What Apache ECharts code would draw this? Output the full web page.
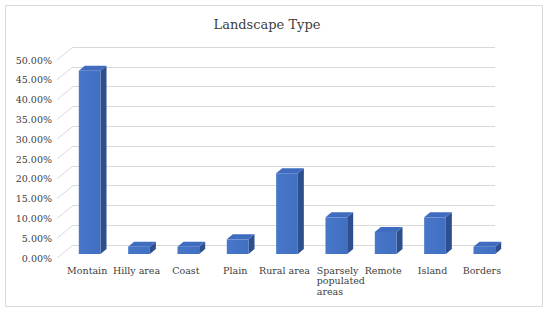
<!DOCTYPE html>
<html>
<head>
<meta charset="utf-8">
<script src="https://cdn.jsdelivr.net/npm/echarts@6/dist/echarts.min.js"></script>
<style>html,body{margin:0;padding:0;background:#fff}#c{width:550px;height:313px}</style>
</head>
<body>
<div id="c"></div>
<script>
const chartTitle = 'Landscape Type';
const categories = ['Montain', 'Hilly area', 'Coast', 'Plain', 'Rural area', 'Sparsely\npopulated\nareas', 'Remote', 'Island', 'Borders'];
const shares = [0.463, 0.0185, 0.0185, 0.037, 0.2037, 0.0926, 0.0556, 0.0926, 0.0185];
const yTicks = [0, 0.05, 0.10, 0.15, 0.20, 0.25, 0.30, 0.35, 0.40, 0.45, 0.50];

const FONT = '"DejaVu Serif", serif';
const DEPTH = [16, -13];   // wall depth offset
const BAR_DEPTH = [6, -5]; // bar depth offset

const chart = echarts.init(document.getElementById('c'), null, {renderer: 'svg'});
const yMin = yTicks[0], yMax = yTicks[yTicks.length - 1], yStep = yTicks[1] - yTicks[0];
const labelStyle = {align: 'left', fontFamily: FONT, fontSize: 9.5, color: '#404040', lineHeight: 10.5};

chart.setOption({
  animation: false,
  backgroundColor: '#ffffff',
  graphic: [
    {type: 'rect', shape: {x: 5.5, y: 5.5, width: 537, height: 301}, style: {fill: 'none', stroke: '#d9d9d9', lineWidth: 1}, silent: true},
    {type: 'text', x: 267, y: 24, style: {text: chartTitle, font: '13px ' + FONT, fill: '#404040', textAlign: 'center', textVerticalAlign: 'middle'}}
  ],
  grid: [
    {left: 57, right: 480, top: 60, bottom: 55},
    {left: 65, right: 41, top: 56, bottom: 59},
    {left: 73, right: 55, top: 47, bottom: 68}
  ],
  xAxis: [
    {gridIndex: 0, type: 'value', min: 0, max: 1, show: false},
    {gridIndex: 1, type: 'category', data: categories,
      axisLine: {show: false}, axisTick: {show: false},
      axisLabel: {
        interval: 0, margin: 11, padding: [0, 5, 0, 0],
        formatter: v => {
          const lines = v.split('\n');
          const key = lines.length > 1 ? 'b' : 'a';
          return lines.map(s => '{' + key + '|' + s + '}').join('\n');
        },
        rich: {a: labelStyle, b: Object.assign({}, labelStyle, {padding: [0, 0, 0, 14]})}
      }},
    {gridIndex: 2, type: 'value', min: 0, max: 1, show: false}
  ],
  yAxis: [
    {gridIndex: 0, type: 'value', min: yMin, max: yMax, interval: yStep,
      axisLine: {show: false}, axisTick: {show: false}, splitLine: {show: false},
      axisLabel: {margin: 5, fontFamily: FONT, fontSize: 9.5, color: '#404040',
        formatter: v => (v * 100).toFixed(2) + '%'}},
    {gridIndex: 1, type: 'value', min: yMin, max: yMax, interval: yStep, show: false},
    {gridIndex: 2, type: 'value', min: yMin, max: yMax, interval: yStep,
      axisLine: {show: false}, axisTick: {show: false}, axisLabel: {show: false},
      splitLine: {show: true, lineStyle: {color: '#d9d9d9', width: 1}}}
  ],
  series: [
    {
      type: 'custom', xAxisIndex: 0, yAxisIndex: 0, silent: true,
      data: yTicks.map(v => [0, v]),
      renderItem: (params, api) => {
        const p = api.coord([0, api.value(1)]);
        return {type: 'line', shape: {x1: p[0], y1: p[1], x2: p[0] + DEPTH[0], y2: p[1] + DEPTH[1]},
          style: {stroke: '#d9d9d9', lineWidth: 1}};
      }
    },
    {
      type: 'custom', xAxisIndex: 1, yAxisIndex: 1,
      data: shares.map((v, i) => [i, v]),
      encode: {x: 0, y: 1},
      renderItem: (params, api) => {
        const top = api.coord([api.value(0), api.value(1)]);
        const base = api.coord([api.value(0), 0]);
        const w = api.size([1, 0])[0] * 0.44;
        const x0 = top[0] - w / 2, x1 = top[0] + w / 2;
        const yt = top[1], yb = base[1];
        const dx = BAR_DEPTH[0], dy = BAR_DEPTH[1];
        return {type: 'group', children: [
          {type: 'polygon', shape: {points: [[x1, yt], [x1 + dx, yt + dy], [x1 + dx, yb + dy], [x1, yb]]},
            style: {fill: '#2d4f8d'}},
          {type: 'polygon', shape: {points: [[x0, yt], [x0 + dx, yt + dy], [x1 + dx, yt + dy], [x1, yt]]},
            style: {fill: '#3f6cbf'}},
          {type: 'rect', shape: {x: x0, y: yt, width: w, height: yb - yt},
            style: {fill: new echarts.graphic.LinearGradient(0, 0, 1, 0, [
              {offset: 0, color: '#4877c9'}, {offset: 1, color: '#416fc2'}])}}
        ]};
      }
    }
  ]
});
</script>
</body>
</html>
